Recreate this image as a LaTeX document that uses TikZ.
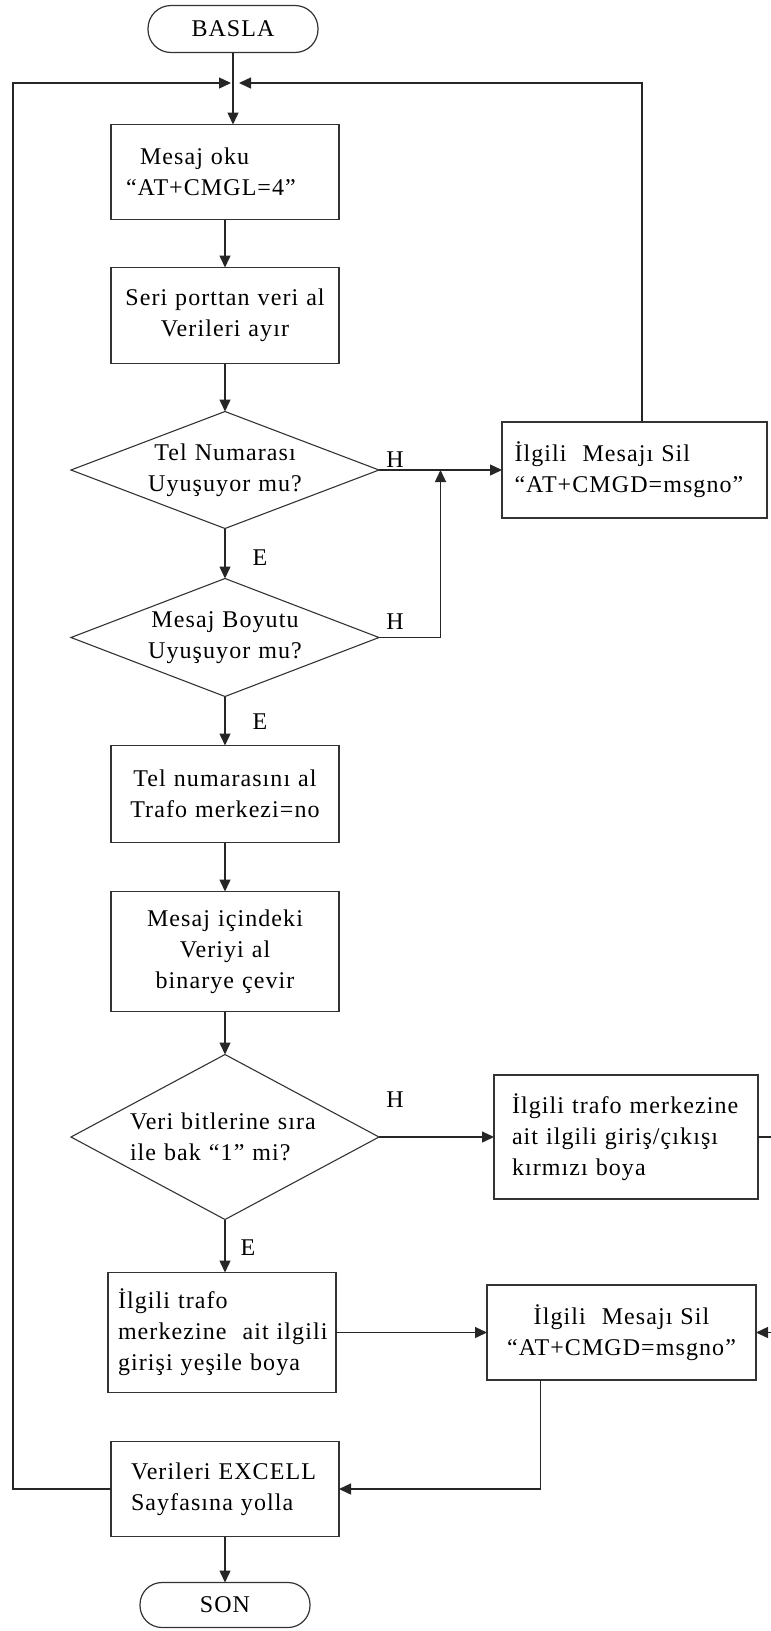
\documentclass[tikz,border=0pt]{standalone}
\usepackage{fontspec}
\setmainfont{Liberation Serif}[LetterSpace=4.5]
\usetikzlibrary{arrows.meta,positioning,shapes.geometric,calc}

\begin{document}
\begin{tikzpicture}[x=1pt,y=-1pt,node distance=48pt,>={Triangle[length=12pt,width=11pt]},
  every node/.style={font=\fontsize{24}{31}\selectfont,outer sep=0pt},
  box/.style={draw=black!80,line width=1.5pt,minimum height=95pt,text width=208pt,inner xsep=10pt,align=center},
  cond/.style={draw=black!80,line width=1.1pt,diamond,aspect=2.6,inner xsep=-20pt,inner ysep=-15pt,minimum width=308pt,minimum height=117pt,text width=175pt,align=center},
  term/.style={draw=black!80,line width=1.2pt,rounded corners=23pt,minimum width=170pt,minimum height=47pt},
  conn/.style={draw=black!85,line width=1.4pt}]
\useasboundingbox (0,0) rectangle (771,1631);
\clip (0,0) rectangle (771,1631);
% main column
\node[term] (basla) at (233,29) {BASLA};
\node[box,below=72pt of basla,xshift=-8pt,text width=198pt,inner xsep=15pt,align=left] (oku) {\hspace*{14pt}Mesaj oku\\“AT+CMGL=4”};
\node[box,below=of oku,minimum height=96pt] (seri) {Seri porttan veri al\\Verileri ayır};
\node[cond,below=of seri] (telno) {Tel Numarası\\Uyuşuyor mu?};
\node[cond,below=50pt of telno,minimum height=118pt] (boyut) {Mesaj Boyutu\\Uyuşuyor mu?};
\node[box,below=49pt of boyut,minimum height=97pt] (telal) {Tel numarasını al\\Trafo merkezi=no};
\node[box,below=49pt of telal,minimum height=120pt] (icindeki) {Mesaj içindeki\\Veriyi al\\binarye çevir};
\node[cond,below=43pt of icindeki,aspect=1.87,minimum height=165pt,text width=190pt,align=left] (bitler) {Veri bitlerine sıra\\ile bak “1” mi?};
\node[box,below=53pt of bitler,xshift=-3pt,minimum height=120pt,text width=220pt,inner xsep=4pt,align=left] (yesil) {\hspace*{6pt}İlgili trafo\\\hspace*{6pt}merkezine\ \ ait ilgili\\\hspace*{6pt}girişi yeşile boya};
\node[box,below=49pt of yesil,xshift=3pt,text width=188pt,inner xsep=20pt,align=left] (excell) {Verileri EXCELL\\Sayfasına yolla};
\node[term,below=46pt of excell,minimum height=45pt,rounded corners=22pt] (son) {SON};
% right column
\node[box,right=123pt of telno,text width=240pt,inner xsep=12.5pt,minimum height=96pt,align=left] (sil1) {İlgili\ \ Mesajı Sil\\“AT+CMGD=msgno”};
\node[box,right=115pt of bitler,text width=228pt,inner xsep=18pt,minimum height=124pt,align=left] (kirmizi) {İlgili trafo merkezine\\ait ilgili giriş/çıkışı\\kırmızı boya};
\node[box,right=151pt of yesil,text width=249pt,inner xsep=10pt] (sil2) {İlgili\ \ Mesajı Sil\\“AT+CMGD=msgno”};
% labels
\node (h1) at (395,460) {H};
\node (h2) at (395,622) {H};
\node (h3) at (395,1100) {H};
\node (e1) at (260,558) {E};
\node (e2) at (260,722) {E};
\node (e3) at (248,1248) {E};
% loop points
\coordinate (lt) at (13,83);
\coordinate (rt) at (642,83);
\coordinate (jn) at (basla |- lt);
\coordinate (rr) at ([xshift=30pt]kirmizi.east);
\coordinate (sd) at ([xshift=-81pt]sil2.south);
% connectors
\draw[conn,->] (basla) -- (basla |- oku.north);
\draw[conn,->] (oku) -- (seri);
\draw[conn,->] (seri) -- (telno);
\draw[conn,->] (telno) -- (boyut);
\draw[conn,->] (boyut) -- (telal);
\draw[conn,->] (telal) -- (icindeki);
\draw[conn,->] (icindeki) -- (bitler);
\draw[conn,->] (bitler) -- (bitler |- yesil.north);
\draw[conn,->] (excell) -- (son);
\draw[conn,->] (telno.east) -- (sil1.west);
\draw[conn,->] (boyut.east) -| ($(telno.east)!.5!(sil1.west)$);
\draw[conn,->] (bitler.east) -- (kirmizi.west);
\draw[conn,->] (yesil.east) -- (sil2.west);
\draw[conn,->] (kirmizi.east) -- (rr) |- (sil2.east);
\draw[conn,->] (sd) |- (excell.east);
\draw[conn,->,shorten >=2pt] (excell.west) -| (lt) -- (jn);
\draw[conn,->,shorten >=6pt] (sil1.north -| rt) -- (rt) -- (jn);
\end{tikzpicture}
\end{document}
